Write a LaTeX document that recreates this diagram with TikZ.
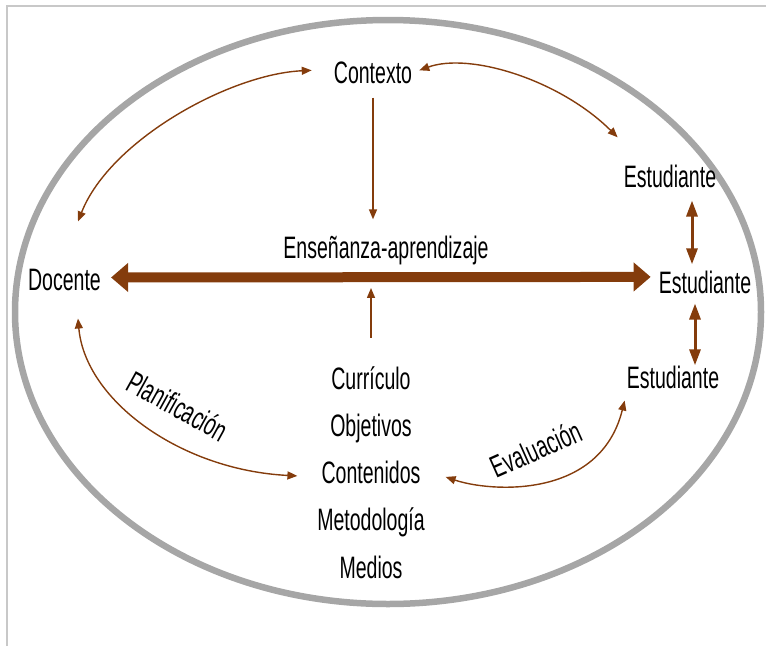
\documentclass[tikz,border=0pt]{standalone}
\usepackage{fontspec}
\setmainfont[FakeStretch=0.63]{Liberation Sans}
\usetikzlibrary{arrows.meta,calc}
\definecolor{brn}{HTML}{843C0C}
\definecolor{ringc}{HTML}{A6A6A6}
\definecolor{framec}{HTML}{C8C8C8}
\begin{document}
\begin{tikzpicture}[x=1pt,y=-1pt,
  lbl/.style={inner sep=0pt, font=\fontsize{31}{36}\selectfont, anchor=base},
  rlbl/.style={inner sep=0pt, font=\fontsize{31}{36}\selectfont},
  thinarr/.style={draw=brn, line width=1.4pt, {Triangle[width=8pt,length=10pt]}-{Triangle[width=8pt,length=10pt]}},
  onearr/.style={draw=brn, line width=1.4pt, -{Triangle[width=8pt,length=10pt]}},
  midarr/.style={draw=brn, line width=3pt, {Triangle[width=11pt,length=16pt]}-{Triangle[width=11pt,length=16pt]}},
  bigarr/.style={draw=brn, line width=10pt, {Triangle[width=28pt,length=17pt]}-{Triangle[width=28pt,length=17pt]}}]
\useasboundingbox (0,0) rectangle (766,646);
% frame
\draw[framec, line width=2pt] (7,646) -- (7,6) -- (766,6);
% ring
\draw[ringc, line width=6.5pt] (388,312) ellipse [x radius=373, y radius=292];
% nodes
\node[lbl] (ctx) at (373,83) {Contexto};
\node[lbl] (doc) at (64.5,290) {Docente};
\node[lbl] (est1) at (670,187) {Estudiante};
\node[lbl] (est2) at (705,293) {Estudiante};
\node[lbl] (est3) at (673,388) {Estudiante};
\node[lbl] (ens) at (386,258) {Enseñanza-aprendizaje};
\node[lbl] (cur) at (371,389) {Currículo};
\node[lbl] (obj) at (371,436) {Objetivos};
\node[lbl] (cont) at (371,483) {Contenidos};
\node[lbl] (met) at (371,530) {Metodología};
\node[lbl] (med) at (371,578) {Medios};
\node[rlbl, rotate=-29] (plan) at (178,406) {Planificación};
\node[rlbl, rotate=24] (eval) at (536,449) {Evaluación};
% big arrow
\draw[bigarr] ($(doc.east)+(10,-2)$) -- ($(est2.west)+(-8,-5)$);
% vertical arrows between students
\draw[midarr] ($(est1.south)+(22,13)$) -- ($(est2.north)+(-13,-6)$);
\draw[midarr] ($(est2.south)+(-10,10)$) -- ($(est3.north)+(22,0)$);
% context down, curriculum up
\draw[onearr] ($(ctx.south)+(0,14)$) -- ($(ens.north)+(-13,-16)$);
\draw[onearr] ($(cur.north)+(0,-28)$) -- ($(cur.north)+(0,-78)$);
% curved arrows
\draw[thinarr] ($(ctx.west)+(-22,-2)$) .. controls (230,74) and (110,140) .. ($(doc.north)+(13.5,-47)$);
\draw[thinarr] ($(ctx.east)+(7,-2)$) .. controls (470,52) and (560,80) .. ($(est1.north west)+(-6,-27)$);
\draw[thinarr] ($(doc.south)+(13.5,28)$) .. controls (85,400) and (180,470) .. ($(cont.west)+(-24,4)$);
\draw[thinarr] ($(cont.east)+(25,5)$) .. controls (490,492) and (600,500) .. ($(est3.south west)+(-2,12)$);
\end{tikzpicture}
\end{document}
